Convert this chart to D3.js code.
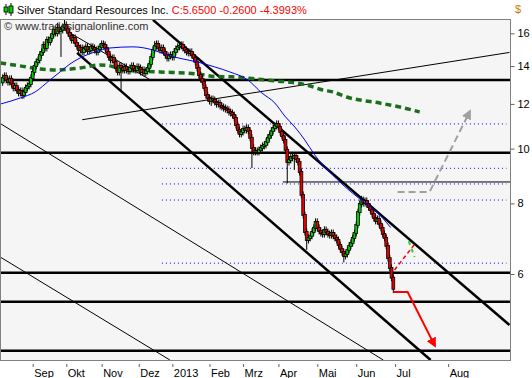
<!DOCTYPE html>
<html>
<head>
<meta charset="utf-8">
<script src="https://cdn.jsdelivr.net/npm/d3@7"></script>
<style>
  body { margin: 0; background: #fff; }
  svg { display: block; font-family: "Liberation Sans", Arial, sans-serif; }
</style>
</head>
<body>
<svg></svg>
<script>
// daily closes, Aug 2012 .. end of Jun 2013 (index = trading day)
const firstOpen = 13.10;
const closes = [
  13.34,13.45,13.23,13.12,13.29,13.02,12.81,12.91,12.70,12.55,
  12.65,12.44,12.60,12.81,12.91,13.02,13.34,13.67,14.01,14.24,
  14.35,14.65,14.83,15.26,15.07,15.57,15.44,15.70,15.96,16.22,
  16.02,16.35,16.15,16.22,16.42,16.56,16.29,16.02,15.83,15.57,
  15.70,15.38,15.20,14.95,15.07,14.83,15.01,15.14,14.89,14.95,
  15.14,15.07,14.95,14.83,15.01,15.14,15.32,15.26,15.07,14.83,
  14.53,14.35,14.47,14.24,13.89,13.67,14.01,13.89,13.78,13.95,
  13.78,13.72,13.89,14.01,13.84,13.78,13.95,13.89,13.67,13.78,
  13.61,13.72,13.89,14.12,14.53,14.95,15.20,15.32,15.07,14.95,
  15.07,14.83,14.65,14.47,14.59,14.65,14.53,14.83,15.01,15.14,
  15.20,15.26,15.07,14.95,14.83,14.77,14.83,14.65,14.47,14.24,
  13.89,13.50,13.29,13.12,12.81,12.44,12.29,12.14,12.24,12.19,
  12.09,11.99,12.04,11.90,11.85,11.80,11.75,11.71,11.61,11.56,
  11.47,11.33,11.01,10.79,10.62,10.70,10.83,10.79,10.88,10.75,
  10.45,10.03,9.87,9.91,9.87,9.95,10.03,10.11,10.15,10.28,
  10.45,10.57,10.75,10.88,10.97,11.06,10.92,10.70,10.53,10.36,
  9.95,9.47,9.55,9.67,9.63,9.71,9.59,9.47,9.09,8.28,
  7.63,7.12,6.89,6.95,7.01,7.12,7.24,7.42,7.24,7.15,
  7.09,7.06,7.18,7.12,7.06,7.03,7.09,7.01,6.95,6.89,
  6.75,6.64,6.56,6.46,6.51,6.62,6.73,6.81,6.95,7.09,
  7.33,7.72,7.98,8.11,8.01,8.08,7.98,7.88,7.79,7.66,
  7.54,7.45,7.51,7.36,7.24,7.06,6.95,6.73,6.40,6.15,
  5.91,5.65
];
// long shadows [day, price]
const spikeLows = [[11,12.24],[33,14.53],[67,12.60],[118,11.90],[141,9.24],[161,8.68],[165,9.17],[172,6.62],[193,6.29],[221,5.55]];
const spikeHighs = [[31,16.70],[35,16.90],[86,15.50],[203,8.25]];

// moving averages [day, price]
const blueAvg = [[-1.4,11.99],[9.9,12.29],[18.4,12.60],[26.8,13.23],[32.5,13.67],[38.1,14.12],[43.8,14.47],[52.3,14.83],
  [60.7,15.07],[73.7,15.14],[85,14.95],[92.9,14.65],[102,14.41],[109.9,14.24],[120,13.95],[128.5,13.67],[138.7,13.23],
  [146.6,12.55],[154,12.04],[159.6,11.42],[165.3,10.92],[170.9,10.36],[176.5,9.75],[185,9.09],[193.5,8.57],[202,8.15],
  [210.5,7.79],[219.5,7.25]];
const greenAvg = [[-1.4,14.18],[9.9,14.01],[21.2,13.84],[29.7,13.78],[43.8,13.89],[55.1,14.06],[60.7,14.01],[68.1,13.78],
  [89,13.67],[109.9,13.56],[120,13.42],[129.7,13.40],[142.7,13.29],[154,13.18],[163.6,13.10],[172,12.96],[181,12.70],
  [186.7,12.60],[194.6,12.34],[213.3,12.04],[224.6,11.85],[235.9,11.61]];

// drawn levels and trend lines
const thickLevels = [13.23, 9.836, 6.03, 5.36, 4.39];
const thinLevel = [[158.5, 8.73], [287, 8.73]];
const dottedLevels = [11.06, 9.23, 8.66, 8.11, 6.27];
const dottedSpan = [90.1, 285];
const thickTrends = [
  [[85, 16.90], [286.7, 4.874]],
  [[42.1, 14.77], [242.1, 4.226]]
];
const thinTrends = [
  [[-1.4, 11.08], [215.3, 4.226]],
  [[-1.4, 6.43], [94.6, 4.226]],
  [[34.2, 16.29], [84.5, 13.18]],
  [[45, 11.25], [286.7, 14.80]]
];
const greyForecast = [[223.4, 8.38], [241.5, 8.38], [264.1, 11.61]];
const redForecast = [[221.2, 5.576], [229.1, 5.576], [244.3, 4.49]];
const redDashed = [[221.7, 6.10], [233.6, 6.81]];
const greenDashed = [[229.7, 6.86], [233.0, 6.43]];

const monthTicks = [17, 36, 56, 77, 96, 117, 136, 156, 178, 200, 222, 252];
const monthLabels = ["Sep", "Okt", "Nov", "Dez", "2013", "Feb", "Mrz", "Apr", "Mai", "Jun", "Jul", "Aug"];
const priceTicks = [6, 8, 10, 12, 14, 16];

const width = 532, height = 378;
const plot = { left: 0.5, top: 19.5, right: 510.5, bottom: 360.5 };

const svg = d3.select("svg").attr("width", width).attr("height", height);

const x = d3.scaleLinear().domain([-1.5, 287]).range([0, 510]);
const y = d3.scaleLog().domain([4.226, 16.96]).range([360, 19]);

svg.append("rect").attr("width", width).attr("height", height).attr("fill", "#fff");
svg.append("rect")
  .attr("x", plot.left).attr("y", plot.top)
  .attr("width", plot.right - plot.left).attr("height", plot.bottom - plot.top)
  .attr("fill", "#f5f5f5");

const defs = svg.append("defs");
defs.append("clipPath").attr("id", "clip").append("rect")
  .attr("x", plot.left).attr("y", plot.top)
  .attr("width", plot.right - plot.left).attr("height", plot.bottom - plot.top);
const marker = (id, color) => defs.append("marker").attr("id", id)
  .attr("viewBox", "0 0 10 10").attr("refX", 7).attr("refY", 5)
  .attr("markerWidth", 5).attr("markerHeight", 5).attr("orient", "auto")
  .append("path").attr("d", "M0,0L10,5L0,10z").attr("fill", color);
marker("arrRed", "#ff0000");
marker("arrGrey", "#a0a0a0");

const g = svg.append("g").attr("clip-path", "url(#clip)");
const line = d3.line().x(d => x(d[0])).y(d => y(d[1]));

// dotted levels
g.append("g").selectAll("line").data(dottedLevels).join("line")
  .attr("x1", x(dottedSpan[0])).attr("x2", x(dottedSpan[1]))
  .attr("y1", d => y(d)).attr("y2", d => y(d))
  .attr("stroke", "#0000ff").attr("stroke-width", 1).attr("stroke-dasharray", "1,3");

// horizontal levels
g.append("g").selectAll("line").data(thickLevels).join("line")
  .attr("x1", 0).attr("x2", 511)
  .attr("y1", d => y(d)).attr("y2", d => y(d))
  .attr("stroke", "#000").attr("stroke-width", 2.5);
g.append("path").attr("d", line(thinLevel)).attr("stroke", "#000").attr("stroke-width", 1).attr("fill", "none");

// trend lines
g.append("g").selectAll("path").data(thinTrends).join("path")
  .attr("d", line).attr("stroke", "#000").attr("stroke-width", 1).attr("fill", "none");
g.append("g").selectAll("path").data(thickTrends).join("path")
  .attr("d", line).attr("stroke", "#000").attr("stroke-width", 2.5).attr("fill", "none");

// green dashed average
g.append("path").attr("d", line.curve(d3.curveMonotoneX)(greenAvg))
  .attr("fill", "none").attr("stroke", "#1b6e1b").attr("stroke-width", 3.5).attr("stroke-dasharray", "6,4");
line.curve(d3.curveLinear);

// candles
const opens = closes.map((c, i) => i === 0 ? firstOpen : closes[i - 1]);
const lowMap = new Map(spikeLows), highMap = new Map(spikeHighs);
const candles = g.append("g");
closes.forEach((c, i) => {
  const o = opens[i];
  const top = y(Math.max(o, c)), bot = y(Math.min(o, c));
  const hi = highMap.has(i) ? y(highMap.get(i)) : top - 3.5;
  const lo = lowMap.has(i) ? y(lowMap.get(i)) : bot + 3.5;
  candles.append("line").attr("x1", x(i)).attr("x2", x(i)).attr("y1", hi).attr("y2", lo)
    .attr("stroke", "#000").attr("stroke-width", 1);
  candles.append("rect").attr("x", x(i) - 1.4).attr("width", 2.8)
    .attr("y", top - 0.5).attr("height", Math.max(2, bot - top + 1))
    .attr("fill", c >= o ? "#00d000" : "#e60000").attr("stroke", "#000").attr("stroke-width", 0.8);
});

// blue average
g.append("path").attr("d", line.curve(d3.curveMonotoneX)(blueAvg))
  .attr("fill", "none").attr("stroke", "#0000ee").attr("stroke-width", 1);
line.curve(d3.curveLinear);

// forecasts
g.append("path").attr("d", line(greyForecast)).attr("fill", "none")
  .attr("stroke", "#a0a0a0").attr("stroke-width", 2).attr("stroke-dasharray", "7,4")
  .attr("marker-end", "url(#arrGrey)");
g.append("path").attr("d", line(redDashed)).attr("fill", "none")
  .attr("stroke", "#ff0000").attr("stroke-width", 1.5).attr("stroke-dasharray", "4,3");
g.append("path").attr("d", line(greenDashed)).attr("fill", "none")
  .attr("stroke", "#33cc33").attr("stroke-width", 2).attr("stroke-dasharray", "4,4");
g.append("path").attr("d", line(redForecast)).attr("fill", "none")
  .attr("stroke", "#ff0000").attr("stroke-width", 2).attr("marker-end", "url(#arrRed)");

// frame
svg.append("rect")
  .attr("x", plot.left).attr("y", plot.top)
  .attr("width", plot.right - plot.left).attr("height", plot.bottom - plot.top)
  .attr("fill", "none").attr("stroke", "#808080");

// axes
const yAxis = svg.append("g").attr("transform", `translate(${plot.right},0)`)
  .call(d3.axisRight(y).tickValues(priceTicks).tickFormat(d3.format("d")).tickSize(4).tickPadding(3));
yAxis.select(".domain").remove();
yAxis.selectAll("line").attr("stroke", "#606060");
yAxis.selectAll("text").attr("font-size", 11).attr("fill", "#000").attr("font-family", "Liberation Sans, Arial, sans-serif");

const xAxis = svg.append("g").attr("transform", "translate(0,364)")
  .call(d3.axisBottom(x).tickValues(monthTicks).tickFormat((d, i) => monthLabels[i]).tickSize(3));
xAxis.select(".domain").remove();
xAxis.selectAll("line").attr("stroke", "#606060");
xAxis.selectAll("text").attr("font-size", 11).attr("fill", "#000").attr("text-anchor", "start")
  .attr("x", 1).attr("y", 5).attr("font-family", "Liberation Sans, Arial, sans-serif");

svg.append("text").attr("x", 515).attr("y", 13).attr("font-size", 11).attr("fill", "#cc7a00").text("$");

// title
const icon = svg.append("g");
[[6, 4, 15, 7, 12], [11, 3, 16, 6, 13]].forEach(([cx, h, l, t, b]) => {
  icon.append("line").attr("x1", cx).attr("x2", cx).attr("y1", h).attr("y2", l).attr("stroke", "#000");
  icon.append("rect").attr("x", cx - 2).attr("y", t).attr("width", 4).attr("height", b - t)
    .attr("fill", "#00d000").attr("stroke", "#000").attr("stroke-width", 0.8);
});
const title = svg.append("text").attr("x", 17).attr("y", 14).attr("font-size", 11);
title.append("tspan").attr("fill", "#000").text("Silver Standard Resources Inc. ");
title.append("tspan").attr("fill", "#ff0000").text("C:5.6500 -0.2600 -4.3993%");

svg.append("text").attr("x", 4).attr("y", 30).attr("font-size", 11).attr("fill", "#333")
  .text("© www.tradesignalonline.com");
</script>
</body>
</html>
